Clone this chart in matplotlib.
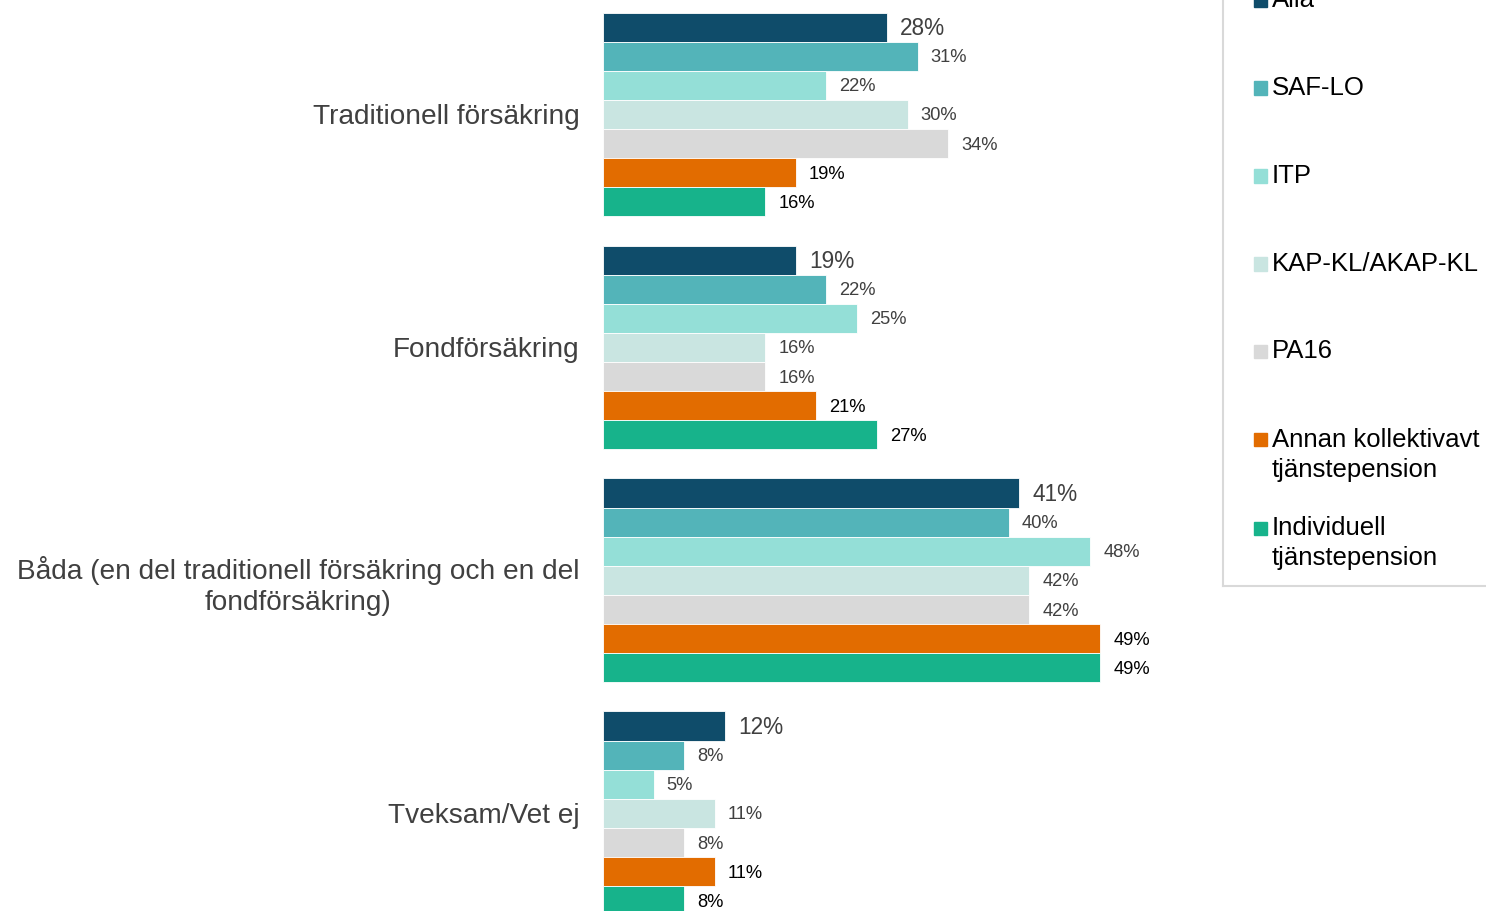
import matplotlib.pyplot as plt
from matplotlib.lines import Line2D
from matplotlib.patches import Rectangle

plt.rcParams["font.family"] = ["Liberation Sans", "DejaVu Sans"]

CATEGORIES = [
    "Traditionell försäkring",
    "Fondförsäkring",
    "Båda (en del traditionell försäkring och en del\nfondförsäkring)",
    "Tveksam/Vet ej",
]
SERIES = [
    "Alla",
    "SAF-LO",
    "ITP",
    "KAP-KL/AKAP-KL",
    "PA16",
    "Annan kollektivavt\ntjänstepension",
    "Individuell\ntjänstepension",
]
ALLA = [28, 19, 41, 12]
SAF_LO = [31, 22, 40, 8]
ITP = [22, 25, 48, 5]
KAP_KL = [30, 16, 42, 11]
PA16 = [34, 16, 42, 8]
ANNAN = [19, 21, 49, 11]
INDIVIDUELL = [16, 27, 49, 8]
VALUES = [ALLA, SAF_LO, ITP, KAP_KL, PA16, ANNAN, INDIVIDUELL]

COLORS = ["#0f4c6a", "#53b4b9", "#94dfd7", "#c9e5e1", "#d9d9d9", "#e26c00", "#17b38b"]
LABEL_COLORS = ["#404040", "#404040", "#404040", "#404040", "#404040", "#000000", "#000000"]

W, H = 1486, 911
fig = plt.figure(figsize=(W / 100, H / 100), dpi=100)

# axes placed in pixel terms: zero line at x=603, right edge 1200
ax_left, ax_right = 603, 1200
ax = fig.add_axes([ax_left / W, 0, (ax_right - ax_left) / W, 1])

px_per_pct = 10.15
bar_px = 29.125
n_series = len(SERIES)
group_step = n_series + 1

for j, (vals, color) in enumerate(zip(VALUES, COLORS)):
    ys = [i * group_step + j for i in range(len(CATEGORIES))]
    ax.barh(ys, vals, height=1.0, color=color, edgecolor="white", linewidth=0.6)
    for y, v in zip(ys, vals):
        ax.text(
            v + 13 / px_per_pct,
            y + 0.05,
            f"{v}%",
            ha="left",
            va="center",
            fontsize=16.3 if j == 0 else 13.2,
            color=LABEL_COLORS[j],
        )

ax.set_xlim(0, (ax_right - ax_left) / px_per_pct)
top = -0.5 - 12.5 / bar_px
ax.set_ylim(top + H / bar_px, top)

centers = [i * group_step + (n_series - 1) / 2 for i in range(len(CATEGORIES))]
ax.set_yticks(centers)
ax.set_yticklabels(CATEGORIES, fontsize=20.2, color="#404040",
                   multialignment="center", linespacing=1.25)
ax.tick_params(axis="y", length=0, pad=17)
ax.set_xticks([])
for spine in ax.spines.values():
    spine.set_visible(False)

# legend drawn by hand (box runs off the top/right of the image)
leg_x, leg_bottom = 1223, 586
fig.add_artist(Line2D([leg_x / W, leg_x / W], [1, 1 - leg_bottom / H], color="#d9d9d9", lw=1.5))
fig.add_artist(Line2D([leg_x / W, 1], [1 - leg_bottom / H, 1 - leg_bottom / H], color="#d9d9d9", lw=1.5))

entry_y = [0, 88, 176, 264, 351, 440, 528]
line_px = 30
for name, color, yc in zip(SERIES, COLORS, entry_y):
    fig.add_artist(
        Rectangle(((1254) / W, 1 - (yc + 6.5) / H), 13 / W, 13 / H, color=color, transform=fig.transFigure)
    )
    n_lines = name.count("\n") + 1
    ymid = yc + (n_lines - 1) * line_px / 2
    fig.text(1272 / W, 1 - ymid / H, name, ha="left", va="center", fontsize=18.5,
             color="#000000", linespacing=1.27)

fig.savefig("out.png", dpi=100)
